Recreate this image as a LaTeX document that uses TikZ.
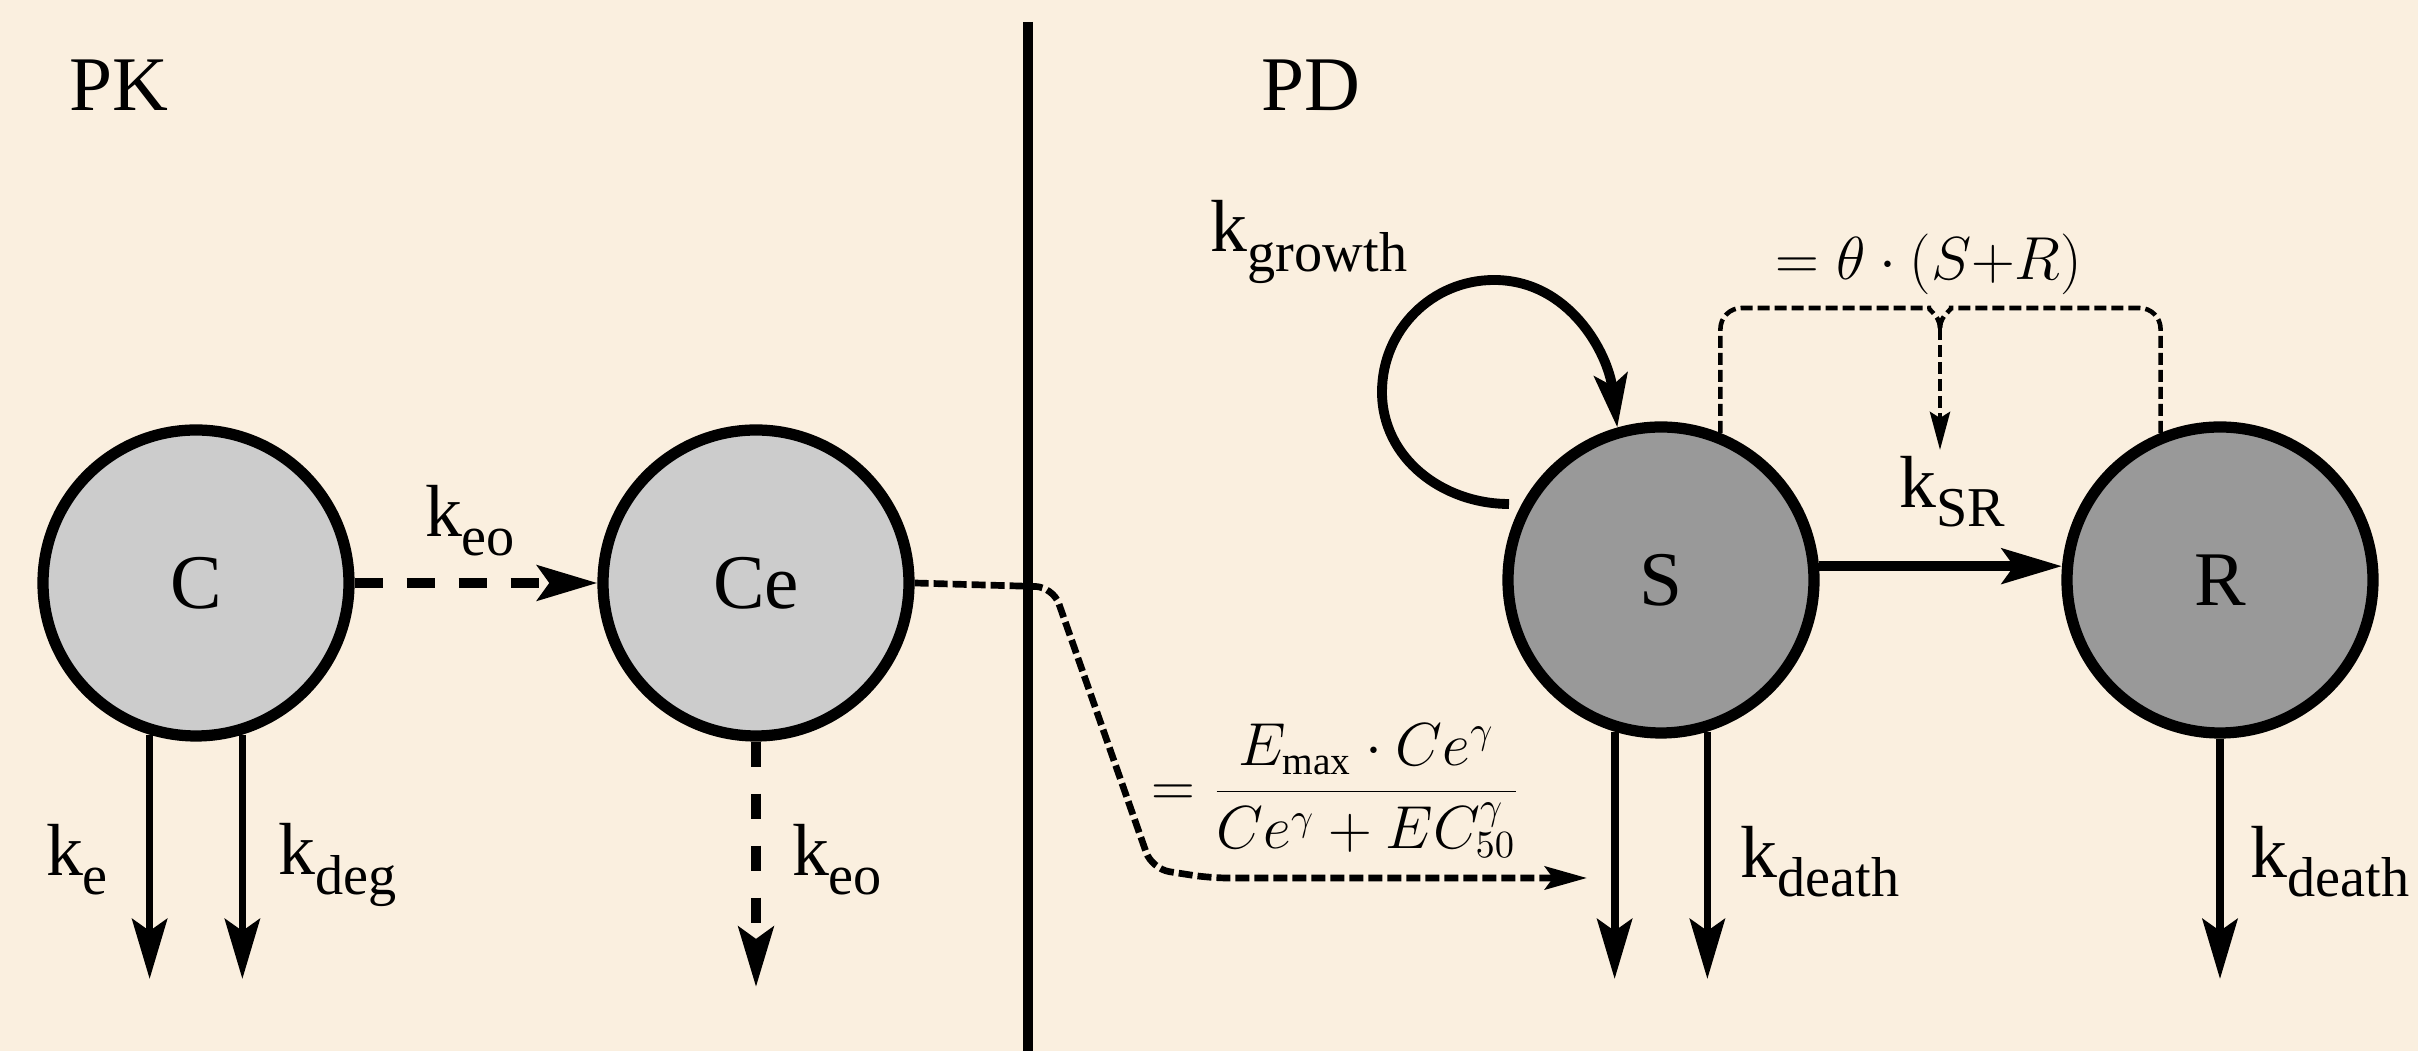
\documentclass[tikz,border=0pt]{standalone}
\usepackage{fontspec}
\setmainfont{Liberation Serif}
\newfontfamily\timesfont{Liberation Serif}
\usepackage{tikz}
\usetikzlibrary{arrows.meta,positioning,calc}
\definecolor{paper}{RGB}{250,239,223}
\definecolor{pkgray}{RGB}{204,204,204}
\definecolor{pdgray}{RGB}{153,153,153}
\newcommand{\rk}[1]{k\raisebox{-5.5pt}{\fontsize{16}{16}\selectfont #1}}

\begin{document}
\begin{tikzpicture}[font=\timesfont\fontsize{21}{21}\selectfont]
\tikzset{pool/.style={circle,draw,line width=3.2pt,minimum size=3.06cm,inner sep=0pt,font=\timesfont\fontsize{22}{22}\selectfont},
  bigtip/.style={-{Stealth[length=6mm,width=3.5mm,inset=1.2mm]}},
  flow/.style={bigtip,line width=2.2pt},
  dflow/.style={bigtip,line width=2.8pt,dash pattern=on 0.28cm off 0.24cm},
  effect/.style={-{Stealth[length=4.2mm,width=2.3mm,inset=0.8mm]},line width=1.9pt,dash pattern=on 0.14cm off 0.05cm,rounded corners=5pt},
  bracket/.style={line width=1.3pt,dash pattern=on 0.12cm off 0.05cm,rounded corners=6pt},
  lbl/.style={inner sep=0pt}}
\fill[paper] (0,0) rectangle (24.18,10.51);
\useasboundingbox (0,0) rectangle (24.18,10.51);
% PK | PD divider
\coordinate (divtop) at (10.28,10.29);
\coordinate (divbot) at (10.28,0);
\draw[line width=2.8pt] (divtop) -- (divbot);
\node[font=\timesfont\fontsize{22}{22}\selectfont] (pk) at (1.19,9.66) {PK};
\node[font=\timesfont\fontsize{22}{22}\selectfont] (pd) at (13.11,9.66) {PD};
% compartments
\node[pool,fill=pkgray] (C) at (1.96,4.68) {C};
\node[pool,fill=pkgray] (Ce) at (7.56,4.68) {Ce};
\node[pool,fill=pdgray] (S) at (16.61,4.71) {S};
\node[pool,fill=pdgray] (R) at (22.20,4.71) {R};
% PK part
\coordinate (floor) at (0,0.72);
\coordinate (floorb) at (0,0.64);
\draw[dflow] (C) -- (Ce);
\draw[flow] (C.-107) -- (C.-107 |- floor);
\draw[flow] (C.-73) -- (C.-73 |- floor);
\draw[dflow,dash pattern=on 0.25cm off 0.27cm] (Ce.south) -- (Ce.south |- floorb);
\node[lbl] (keo) at (4.70,5.30) {\rk{eo}};
\node[lbl] (ke) at (0.77,1.91) {\rk{e}};
\node[lbl] (kdeg) at (3.38,1.86) {\rk{deg}};
\node[lbl] (keout) at (8.37,1.91) {\rk{eo}};
% effect of Ce on S
\coordinate (w1) at (10.53,4.64);
\coordinate (w2) at (11.52,1.82);
\coordinate (w3) at (12.10,1.73);
\coordinate (hit) at (15.87,1.73);
\draw[effect] (Ce.east) -- (w1) -- (w2) -- (w3) -- (hit);
\node (emax) at (13.36,2.60) {\fontsize{16}{16}\selectfont$\displaystyle =\frac{E_{\mathrm{max}}\cdot Ce^{\gamma}}{Ce^{\gamma}+EC_{50}^{\gamma}}$};
% PD part
\coordinate (lpL) at (13.82,6.59);
\coordinate (lpT) at (14.94,7.71);
\coordinate (lp) at (15.09,5.47);
\draw[line width=2.8pt,-{Stealth[length=5.3mm,width=3.3mm,inset=1.1mm]}] (lp) to[out=180,in=-90] (lpL) to[out=90,in=180] (lpT) to[out=0,in=97] (S.106);
\node[lbl] (kgrowth) at (13.09,8.09) {\rk{growth}};
\draw[flow,line width=2.8pt] (S.5) -- (R.175);
\node[lbl] (ksr) at (19.52,5.59) {\rk{SR}};
\coordinate (jn) at (19.40,7.43);
\coordinate (srtip) at (19.40,6.01);
\draw[bracket] (S.68) -- (S.68 |- jn) -- ([xshift=-3mm]jn) to[out=0,in=90] ([yshift=-2mm]jn);
\draw[bracket] (R.112) -- (R.112 |- jn) -- ([xshift=3mm]jn) to[out=180,in=90] ([yshift=-2mm]jn);
\draw[bracket,-{Stealth[length=3.8mm,width=2mm,inset=0.6mm]}] ([yshift=-2mm]jn) -- (srtip);
\node (theta) at (19.29,7.87) {\fontsize{16}{16}\selectfont$=\theta\cdot(S{+}R)$};
\draw[flow] (S.-107) -- (S.-107 |- floor);
\draw[flow] (S.-73) -- (S.-73 |- floor);
\draw[flow] (R.south) -- (R.south |- floor);
\node[lbl] (kds) at (18.20,1.89) {\rk{death}};
\node[lbl] (kdr) at (23.30,1.89) {\rk{death}};
\end{tikzpicture}
\end{document}
